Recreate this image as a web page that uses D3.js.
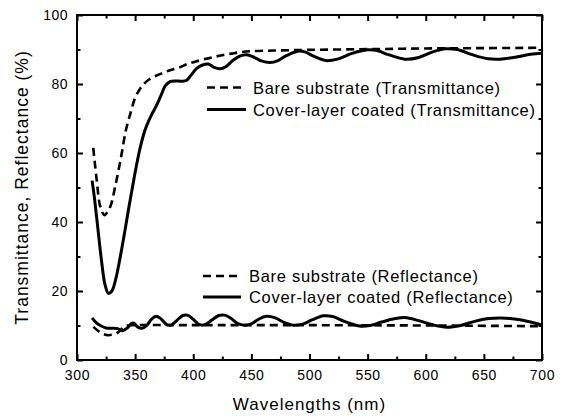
<!DOCTYPE html>
<html><head><meta charset="utf-8">
<script src="https://cdn.jsdelivr.net/npm/d3@7/dist/d3.min.js"></script>
<style>
body{margin:0;background:#fff;}
svg{display:block;}
text{font-family:"Liberation Sans",Arial,sans-serif;fill:#000;}
</style></head>
<body>
<svg id="chart" width="564" height="419"></svg>
<script>
// Data (wavelength nm, percent)
const bareT = [[314,61.5],[317,52],[320,44.5],[323.5,42],[326,42.8],[329,44.8],[333,50.5],[338,59],[342,66.5],[346,71.5],[350,76],[354,78.5],[358,80.2],[362,81.3],[368,82.4],[374,83.2],[380,84],[388,84.8],[395,85.8],[400,86.3],[407,87],[414,87.5],[420,88],[426,88.4],[433,88.8],[440,89.2],[450,89.5],[470,89.7],[500,89.9],[550,90.1],[600,90.3],[650,90.4],[700,90.5]];
const coatedT = [[313,52],[315,47],[318,38],[321,29],[324,22],[327,19.3],[330,20],[333,23],[337,29.5],[341,37],[345,45],[349,52.5],[353,59.5],[357,65],[360,68],[364,71],[368,73.5],[372,76.5],[376,79.5],[380,80.7],[385,80.9],[390,80.8],[394,81],[398,82.5],[403,84.5],[408,85.5],[413,85.8],[418,84.8],[423,84.4],[428,85],[434,86.8],[440,88.1],[446,88.5],[452,87.8],[458,86.8],[466,86.2],[473,86.8],[480,88.2],[490,89.5],[496,89.3],[504,88],[514,86.8],[524,87.2],[536,88.8],[550,89.9],[558,89.7],[568,88.5],[582,87.2],[594,87.7],[606,89.3],[617,90.2],[627,90],[640,88.5],[654,87.3],[664,87.2],[678,87.8],[690,88.6],[700,88.9]];
const bareR = [[314,9.6],[318,8.5],[322,7.6],[326,7.2],[330,7.3],[334,7.7],[338,8.9],[342,9.9],[350,10.1],[400,10.1],[500,10.1],[600,10],[700,9.8]];
const coatedR = [[313,12.2],[316,11],[320,10],[325,9.3],[330,9.2],[335,9.1],[339,8.5],[343,9.2],[347,10.6],[349,10.7],[352,9.6],[356,9.2],[360,10],[364,11.8],[368,12.7],[372,12],[377,10.3],[381,10.1],[386,11.5],[391,12.9],[395,13],[400,11.8],[405,10.3],[410,10.2],[416,11.6],[422,12.9],[427,13],[432,12.2],[438,10.6],[444,10.1],[450,10.5],[456,11.8],[463,12.7],[470,12.3],[478,10.9],[486,10.1],[494,10.4],[502,11.6],[512,12.8],[520,12.6],[530,11.2],[544,9.8],[552,10],[562,11],[574,12],[582,12.3],[594,11.4],[606,10.2],[618,9.5],[630,10],[642,11.2],[654,12],[665,12.2],[678,11.8],[690,11],[700,10.1]];
const xTicks = [300,350,400,450,500,550,600,650,700];
const yTicks = [0,20,40,60,80,100];
const legendTop = ["Bare substrate (Transmittance)","Cover-layer coated (Transmittance)"];
const legendBottom = ["Bare substrate (Reflectance)","Cover-layer coated (Reflectance)"];
const xTitle = "Wavelengths (nm)";
const yTitle = "Transmittance, Reflectance (%)";

const svg = d3.select("#chart");
const L=77,R=542,T=15,B=360;
const x = d3.scaleLinear().domain([300,700]).range([L,R]);
const y = d3.scaleLinear().domain([0,100]).range([B,T]);

const g = svg.append("g");
function ticks(axisFn, scale, vals, len, transform){
  g.append("g").attr("transform",transform)
   .call(axisFn(scale).tickValues(vals).tickSize(len).tickFormat(""))
   .call(s=>{s.select(".domain").remove(); s.selectAll("line").attr("stroke","#000").attr("stroke-width",2);});
}
const xMinor = d3.range(325,700,50), yMinor = d3.range(10,100,20);
ticks(d3.axisTop, x, xTicks, 6, `translate(0,${B})`);
ticks(d3.axisTop, x, xMinor, 3.5, `translate(0,${B})`);
ticks(d3.axisBottom, x, xTicks, 6, `translate(0,${T})`);
ticks(d3.axisBottom, x, xMinor, 3.5, `translate(0,${T})`);
ticks(d3.axisRight, y, yTicks, 6, `translate(${L},0)`);
ticks(d3.axisRight, y, yMinor, 3.5, `translate(${L},0)`);
ticks(d3.axisLeft, y, yTicks, 6, `translate(${R},0)`);
ticks(d3.axisLeft, y, yMinor, 3.5, `translate(${R},0)`);

g.selectAll(".xl").data(xTicks).enter().append("text")
 .attr("x",d=>x(d)+0.5).attr("y",B+20).attr("text-anchor","middle").attr("font-size",14).attr("letter-spacing",0.7).text(d=>d);
g.selectAll(".yl").data(yTicks).enter().append("text")
 .attr("x",L-9).attr("y",d=>y(d)+5).attr("text-anchor","end").attr("font-size",14).attr("letter-spacing",0.5).text(d=>d);

svg.append("rect").attr("x",L).attr("y",T).attr("width",R-L).attr("height",B-T)
 .attr("fill","none").attr("stroke","#000").attr("stroke-width",2);

const line = d3.line().x(d=>x(d[0])).y(d=>y(d[1])).curve(d3.curveCatmullRom);
const plot = svg.append("g");
plot.append("path").datum(bareT).attr("d",line).attr("fill","none").attr("stroke","#000").attr("stroke-width",2.6).attr("stroke-dasharray","8,5");
plot.append("path").datum(coatedT).attr("d",line).attr("fill","none").attr("stroke","#000").attr("stroke-width",3);
plot.append("path").datum(bareR).attr("d",line).attr("fill","none").attr("stroke","#000").attr("stroke-width",2.6).attr("stroke-dasharray","8,5");
plot.append("path").datum(coatedR).attr("d",line).attr("fill","none").attr("stroke","#000").attr("stroke-width",3);

function legend(items, x0, x1, tx, y0, dy){
  items.forEach((t,i)=>{
    const yy = y0 + i*dy;
    svg.append("line").attr("x1",x0).attr("x2",x1).attr("y1",yy).attr("y2",yy)
      .attr("stroke","#000").attr("stroke-width",i?3:2.6).attr("stroke-dasharray",i?null:"8,5");
    svg.append("text").attr("x",tx).attr("y",yy+6).attr("font-size",16.5).attr("letter-spacing",0.7).text(t);
  });
}
legend(legendTop, 207, 246, 253, 87.5, 22);
legend(legendBottom, 203, 241, 249, 276, 21);

svg.append("text").attr("x",(L+R)/2).attr("y",410).attr("text-anchor","middle").attr("font-size",17).attr("letter-spacing",1).text(xTitle);
svg.append("text").attr("transform",`translate(28,${(T+B)/2}) rotate(-90)`).attr("text-anchor","middle").attr("font-size",17.5).attr("letter-spacing",1).text(yTitle);
</script>
</body></html>
